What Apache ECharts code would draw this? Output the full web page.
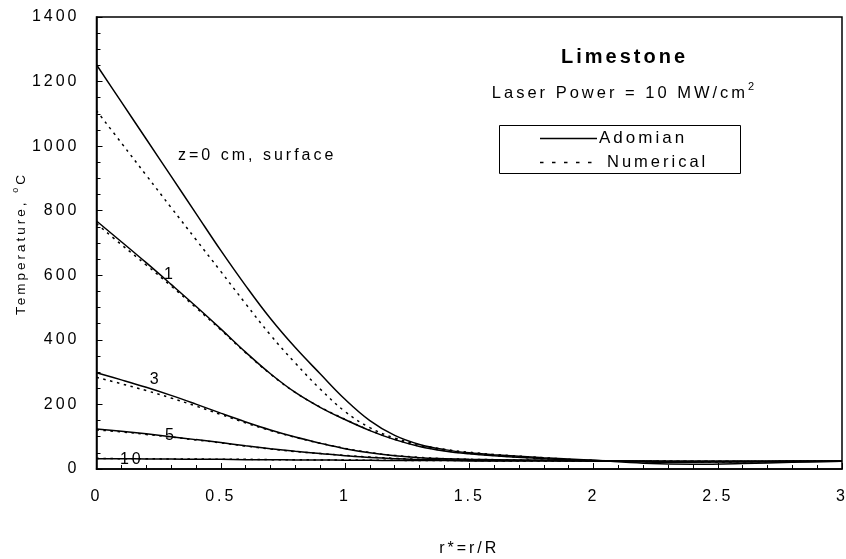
<!DOCTYPE html>
<html>
<head>
<meta charset="utf-8">
<script src="https://cdn.jsdelivr.net/npm/echarts@6/dist/echarts.min.js"></script>
<style>
html,body{margin:0;padding:0;background:#fff;}
#chart{width:846px;height:559px;}
</style>
</head>
<body>
<div id="chart"></div>
<script>
// r* = r/R sample positions
const rStar = [0, 0.1, 0.2, 0.3, 0.4, 0.5, 0.6, 0.7, 0.8, 0.9, 1.0, 1.1, 1.2, 1.3, 1.4, 1.5, 1.6, 1.8, 2.0, 2.2, 2.4, 2.6, 2.8, 3.0];

// Adomian solution (solid)
const adomZ0  = [1252, 1137, 1022, 907, 792, 677, 568, 466, 376, 295, 216, 150, 104, 76, 60, 50, 44, 35, 27, 18, 15, 17, 21, 24];
const adomZ1  = [768, 704, 639, 572, 504, 434, 362, 295, 237, 191, 153, 119, 91, 70, 56, 47, 41, 32, 26, 22, 21, 22, 23, 24];
const adomZ3  = [298, 276, 253, 228, 201, 173, 146, 121, 99, 80, 63, 50, 41, 35, 32, 30, 29, 27, 26, 24, 23, 23, 24, 24];
const adomZ5  = [124, 117, 109, 100, 91, 82, 72, 63, 55, 48, 41, 36, 32, 29, 28, 27, 26, 26, 25, 24, 23, 23, 24, 24];
const adomZ10 = [32, 32, 31, 31, 30, 30, 29, 29, 28, 28, 27, 27, 26, 26, 26, 25, 25, 25, 25, 24, 24, 24, 24, 24];

// Numerical solution (dotted)
const numZ0  = [1110, 1010, 910, 810, 711, 612, 512, 415, 328, 248, 178, 128, 96, 75, 61, 52, 45, 35, 26, 23, 22, 23, 24, 25];
const numZ1  = [760, 695, 632, 567, 500, 431, 360, 294, 237, 192, 154, 120, 92, 71, 57, 48, 42, 32, 26, 23, 22, 23, 24, 25];
const numZ3  = [284, 264, 243, 220, 195, 169, 143, 119, 98, 80, 64, 51, 42, 36, 32, 30, 29, 27, 26, 24, 23, 23, 24, 25];
const numZ5  = [121, 115, 107, 99, 90, 81, 71, 62, 54, 48, 42, 37, 33, 30, 28, 27, 26, 26, 25, 24, 24, 24, 24, 25];
const numZ10 = [33, 32, 32, 31, 31, 30, 30, 29, 29, 28, 28, 27, 27, 26, 26, 26, 25, 25, 25, 25, 24, 24, 24, 25];

const xTicks = [0, 0.5, 1, 1.5, 2, 2.5, 3];
const yTicks = [0, 200, 400, 600, 800, 1000, 1200, 1400];

// curve annotations: [text, r*, T, align]
const curveLabels = [
  ['z=0 cm, surface', 0.328, 972, 'left'],
  ['1', 0.296, 601, 'center'],
  ['3', 0.238, 276, 'center'],
  ['5', 0.30, 105, 'center'],
  ['10', 0.142, 28, 'center']
];

const FONT = '"Liberation Sans", Arial, sans-serif';
const LS = 3; // letter spacing (px) of the original's typeface rendering

// widen text tracking like the reference
(function(){
  const P = CanvasRenderingContext2D.prototype;
  const orig = P.fillText;
  P.fillText = function(){ try { this.letterSpacing = LS + 'px'; } catch(e) {} return orig.apply(this, arguments); };
})();
const mctx = document.createElement('canvas').getContext('2d');
function tw(text, font){ mctx.font = font; try { mctx.letterSpacing = LS + 'px'; } catch(e) {} return mctx.measureText(text).width; }

function pairs(vals){ return rStar.map((x,i)=>[x, vals[i]]); }

function solid(name, vals, labelIdx){
  const s = {
    name: name, type: 'line', data: pairs(vals), showSymbol: false, symbol: 'none',
    smooth: 0.4, lineStyle: {color: '#000', width: 1.5, type: 'solid'}, z: 3, animation: false
  };
  if (labelIdx !== undefined) {
    const L = curveLabels[labelIdx];
    s.markPoint = {
      symbol: 'circle', symbolSize: 0, animation: false,
      data: [{coord: [L[1], L[2]], value: L[0]}],
      label: {
        show: true, formatter: L[0], color: '#000', fontFamily: FONT,
        fontSize: 16,
        position: L[3] === 'left' ? [0, 0] : 'inside',
        align: L[3], verticalAlign: 'middle'
      }
    };
  }
  return s;
}
function dotted(name, vals){
  return {
    name: name, type: 'line', data: pairs(vals), showSymbol: false, symbol: 'none',
    smooth: 0.4, lineStyle: {color: '#000', width: 1.5, type: [2.5, 4.5]}, z: 2, animation: false
  };
}

// rich-looking texts built from separate pieces
const fLaser = '16.5px ' + FONT, fLaserSup = '11px ' + FONT;
const wLaser = tw('Laser Power = 10 MW/cm', fLaser);
const wLaserSup = tw('2', fLaserSup) - LS;
const laserX0 = 623 - (wLaser + wLaserSup) / 2;

const fY = '13.5px ' + FONT, fYSup = '9px ' + FONT;
const wY1 = tw('Temperature, ', fY), wYo = tw('o', fYSup), wYC = tw('C', fY) - LS;
const yNameLen = wY1 + wYo + wYC;

const chart = echarts.init(document.getElementById('chart'), null, {renderer: 'canvas'});
chart.setOption({
  animation: false,
  backgroundColor: '#fff',
  grid: {left: 96.5, right: 4, top: 17, bottom: 90, show: true, borderColor: '#000', borderWidth: 1.5,
    containLabel: false, outerBoundsMode: 'none'},
  xAxis: {
    type: 'value', min: 0, max: 3, interval: 0.5,
    name: 'r*=r/R', nameLocation: 'middle', nameGap: 72,
    nameTextStyle: {fontFamily: FONT, fontSize: 16, color: '#000'},
    axisLine: {show: true, lineStyle: {color: '#000', width: 1.5}},
    axisTick: {show: true, inside: true, length: 6, lineStyle: {color: '#000', width: 1}},
    minorTick: {show: true, splitNumber: 5, length: 4, lineStyle: {color: '#000', width: 1}},
    axisLabel: {fontFamily: FONT, fontSize: 16, color: '#000', margin: 20,
      formatter: v => xTicks.includes(v) ? String(v) : ''},
    splitLine: {show: false}
  },
  yAxis: {
    type: 'value', min: 0, max: 1400, interval: 200,
    axisLine: {show: true, lineStyle: {color: '#000', width: 1.5}},
    axisTick: {show: true, inside: true, length: 6, lineStyle: {color: '#000', width: 1}},
    minorTick: {show: true, splitNumber: 4, length: 4, lineStyle: {color: '#000', width: 1}},
    axisLabel: {fontFamily: FONT, fontSize: 16, color: '#000', margin: 17,
      formatter: v => yTicks.includes(v) ? String(v) : ''},
    splitLine: {show: false}
  },
  series: [
    solid('Adomian z=0', adomZ0, 0),
    solid('Adomian z=1', adomZ1, 1),
    solid('Adomian z=3', adomZ3, 2),
    solid('Adomian z=5', adomZ5, 3),
    solid('Adomian z=10', adomZ10, 4),
    dotted('Numerical z=0', numZ0),
    dotted('Numerical z=1', numZ1),
    dotted('Numerical z=3', numZ3),
    dotted('Numerical z=5', numZ5),
    dotted('Numerical z=10', numZ10)
  ],
  graphic: [
    {type: 'text', style: {text: 'Limestone', x: 624.5, y: 57, align: 'center', verticalAlign: 'middle',
      font: 'bold 20px ' + FONT, fill: '#000'}},
    {type: 'text', style: {text: 'Laser Power = 10 MW/cm', x: laserX0, y: 93, align: 'left', verticalAlign: 'middle',
      font: fLaser, fill: '#000'}},
    {type: 'text', style: {text: '2', x: laserX0 + wLaser, y: 87, align: 'left', verticalAlign: 'middle',
      font: fLaserSup, fill: '#000'}},
    {type: 'group', x: 21, y: 245 + yNameLen / 2, rotation: Math.PI / 2, children: [
      {type: 'text', style: {text: 'Temperature, ', x: 0, y: 0, align: 'left', verticalAlign: 'middle', font: fY, fill: '#000'}},
      {type: 'text', style: {text: 'o', x: wY1, y: -5, align: 'left', verticalAlign: 'middle', font: fYSup, fill: '#000'}},
      {type: 'text', style: {text: 'C', x: wY1 + wYo, y: 0, align: 'left', verticalAlign: 'middle', font: fY, fill: '#000'}}
    ]},
    {type: 'rect', shape: {x: 499.5, y: 125.5, width: 241, height: 48},
      style: {fill: '#fff', stroke: '#000', lineWidth: 1}, z: 10},
    {type: 'line', shape: {x1: 540, y1: 138.5, x2: 597, y2: 138.5},
      style: {stroke: '#000', lineWidth: 1.5}, z: 11},
    {type: 'text', style: {text: 'Adomian', x: 599, y: 138.5, align: 'left', verticalAlign: 'middle',
      font: '17px ' + FONT, fill: '#000'}, z: 11},
    {type: 'line', shape: {x1: 540, y1: 162.5, x2: 597, y2: 162.5},
      style: {stroke: '#000', lineWidth: 1.5, lineDash: [3.5, 8.5]}, z: 11},
    {type: 'text', style: {text: 'Numerical', x: 607, y: 162.5, align: 'left', verticalAlign: 'middle',
      font: '16.5px ' + FONT, fill: '#000'}, z: 11}
  ]
});
</script>
</body>
</html>
